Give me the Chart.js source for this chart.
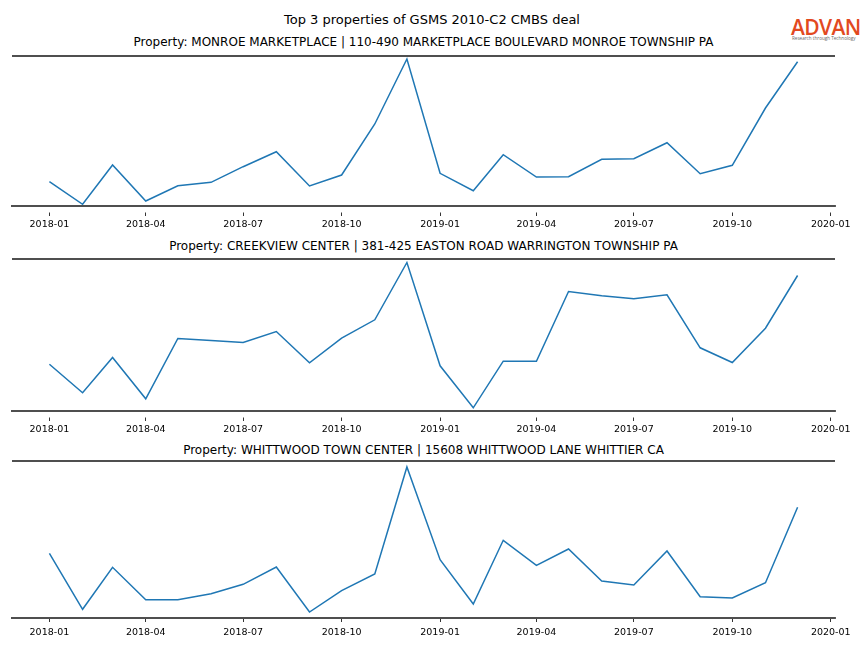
<!DOCTYPE html>
<html>
<head>
<meta charset="utf-8">
<script src="https://cdn.jsdelivr.net/npm/chart.js@4.4.1/dist/chart.umd.min.js"></script>
<style>
  html, body { margin: 0; padding: 0; background: #fff; }
  body { width: 864px; height: 648px; position: relative; overflow: hidden; font-family: "DejaVu Sans", sans-serif; }
  .txt { position: absolute; white-space: nowrap; color: #000; }
  canvas { position: absolute; left: 0; }
</style>
</head>
<body>
<div class="txt" id="mainTitle" style="left:0;width:864px;text-align:center;top:12px;font-size:13px;line-height:16px;"></div>
<div class="txt" style="left:791px;top:15px;font-family:'Open Sans',sans-serif;font-weight:600;font-size:21px;line-height:24px;color:#e2491f;letter-spacing:-0.6px;">ADVAN</div>
<div class="txt" style="left:792px;top:35px;font-family:'Open Sans',sans-serif;font-size:4.6px;line-height:6px;color:#666;">Research through Technology</div>
<div id="titles"></div>
<canvas id="c0" width="864" height="194"></canvas>
<canvas id="c1" width="864" height="196"></canvas>
<canvas id="c2" width="864" height="201"></canvas>
<script>
// ---------- DATA ----------
const mainTitle = "Top 3 properties of GSMS 2010-C2 CMBS deal";
const months = ["2018-01","2018-02","2018-03","2018-04","2018-05","2018-06","2018-07","2018-08","2018-09","2018-10","2018-11","2018-12",
                "2019-01","2019-02","2019-03","2019-04","2019-05","2019-06","2019-07","2019-08","2019-09","2019-10","2019-11","2019-12"];
const xTickLabels = ["2018-01","2018-04","2018-07","2018-10","2019-01","2019-04","2019-07","2019-10","2020-01"];
const propertyTitles = [
  "Property: MONROE MARKETPLACE | 110-490 MARKETPLACE BOULEVARD MONROE TOWNSHIP PA",
  "Property: CREEKVIEW CENTER | 381-425 EASTON ROAD WARRINGTON TOWNSHIP PA",
  "Property: WHITTWOOD TOWN CENTER | 15608 WHITTWOOD LANE WHITTIER CA"
];
const monroeValues = [24.3, 1.7, 41, 5, 20.3, 23.7, 39.3, 54.3, 20, 31, 82, 147,
                      32.7, 15.3, 51.3, 29, 29.3, 46.7, 47.3, 63.3, 32.3, 40.7, 98, 144.3];
const creekviewValues = [46.8, 18.2, 53.5, 12.2, 72.5, 70.5, 68.5, 79.5, 48.2, 72.8, 91.2, 148.5,
                         45.2, 3.2, 49.8, 49.8, 119.5, 115.2, 112.2, 116.2, 63.2, 48.5, 82.8, 135.5];
const whittwoodValues = [64.7, 8.7, 50.7, 18.3, 18.3, 24.3, 33.7, 51, 6, 27.3, 44, 151,
                         58.3, 14, 77.7, 52.7, 69, 37, 33, 67, 21.3, 20, 35.3, 110.7];
const seriesList = [monroeValues, creekviewValues, whittwoodValues];

// ---------- LAYOUT / STYLE ----------
const panels = [
  {top: 56, bottom: 206, ymax: 150, titleY: 35, tickLen: 10, tickDash: [0, 5.5, 4.5, 100], tickPad: 3},
  {top: 259, bottom: 411, ymax: 152, titleY: 239, tickLen: 10, tickDash: [0, 5.5, 4.5, 100], tickPad: 3},
  {top: 461, bottom: 618, ymax: 157, titleY: 443, tickLen: 4, tickDash: [], tickPad: 5}
];
const spineColor = "#4f4f4f";
const spineWidth = 2;
const lineColor = "#1f77b4";

document.getElementById('mainTitle').textContent = mainTitle;

function dayOf(label) {
  const [y, m] = label.split('-').map(Number);
  return (Date.UTC(y, m - 1, 1) - Date.UTC(2018, 0, 1)) / 86400000;
}
function labelOf(day) {
  const d = new Date(Date.UTC(2018, 0, 1) + Math.round(day) * 86400000);
  return d.getUTCFullYear() + '-' + String(d.getUTCMonth() + 1).padStart(2, '0');
}
const xFirst = dayOf(months[0]);
const xLast = dayOf(months[months.length - 1]);
const xMargin = 0.05 * (xLast - xFirst);

const topSpine = {
  id: 'topSpine',
  afterDraw(chart) {
    const {ctx, chartArea} = chart;
    ctx.save();
    ctx.strokeStyle = spineColor;
    ctx.lineWidth = spineWidth;
    ctx.beginPath();
    ctx.moveTo(chartArea.left, chartArea.top);
    ctx.lineTo(chartArea.right, chartArea.top);
    ctx.stroke();
    ctx.restore();
  }
};

const tickFont = {family: "DejaVu Sans", size: 9.5};
const padTop = 4;
const extra = 44;

const titlesDiv = document.getElementById('titles');

panels.forEach((p, i) => {
  const t = document.createElement('div');
  t.className = 'txt';
  t.style.cssText = `left:12px;width:823px;text-align:center;top:${p.titleY}px;font-size:12px;line-height:14px;`;
  t.textContent = propertyTitles[i];
  titlesDiv.appendChild(t);

  const axisH = p.tickLen + tickFont.size * 1.2 + 2 * p.tickPad;
  const canvas = document.getElementById('c' + i);
  const h = (p.bottom - p.top) + padTop + extra;
  canvas.height = h;
  canvas.style.top = (p.top - padTop) + 'px';
  canvas.style.width = '864px';
  canvas.style.height = h + 'px';

  new Chart(canvas.getContext('2d'), {
    type: 'line',
    data: {
      datasets: [{
        data: months.map((m, k) => ({x: dayOf(m), y: seriesList[i][k]})),
        borderColor: lineColor,
        borderWidth: 1.5,
        pointRadius: 0,
        tension: 0,
        fill: false,
        clip: false
      }]
    },
    options: {
      responsive: false,
      animation: false,
      devicePixelRatio: 1,
      layout: {padding: {left: 12, right: 29, top: padTop, bottom: extra - axisH}},
      plugins: {legend: {display: false}, title: {display: false}, tooltip: {enabled: false}},
      scales: {
        x: {
          type: 'linear',
          min: xFirst - xMargin,
          max: xLast + xMargin,
          afterBuildTicks: (scale) => { scale.ticks = xTickLabels.map(l => ({value: dayOf(l)})); },
          ticks: {
            autoSkip: false, maxRotation: 0, padding: p.tickPad,
            color: '#000', font: tickFont,
            callback: (v) => labelOf(v)
          },
          grid: {display: true, drawOnChartArea: false, drawTicks: true, tickLength: p.tickLen,
                 tickBorderDash: p.tickDash, color: '#000', lineWidth: 0.8},
          border: {display: true, color: spineColor, width: spineWidth}
        },
        y: {
          display: false,
          min: 0,
          max: p.ymax
        }
      }
    },
    plugins: [topSpine]
  });
});
</script>
</body>
</html>
